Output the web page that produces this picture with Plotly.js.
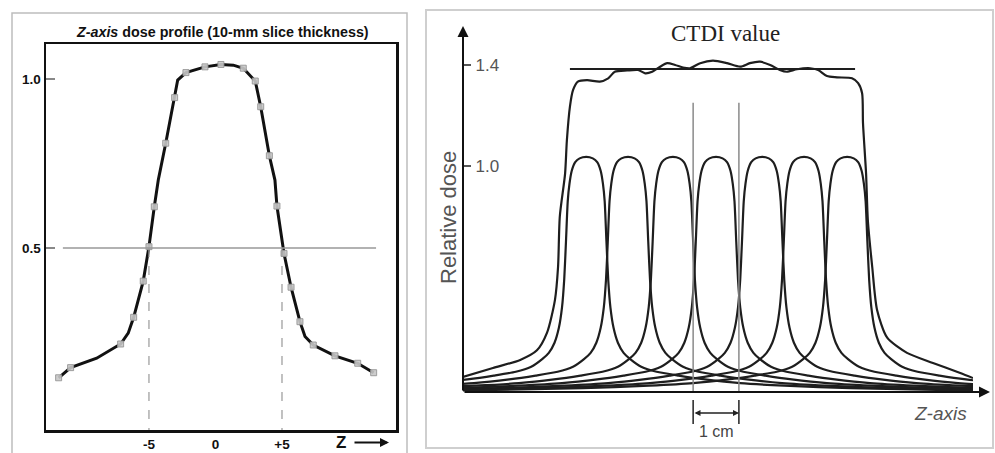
<!DOCTYPE html>
<html>
<head>
<meta charset="utf-8">
<script src="https://cdn.plot.ly/plotly-3.0.1.min.js"></script>
<style>html,body{margin:0;padding:0;background:#fff;}#chart{width:995px;height:453px;}</style>
</head>
<body>
<div id="chart"></div>
<script>
// ---------- Left panel: Z-axis dose profile (10-mm slice) ----------
const profileLineZ    = [-11.79,-10.89,-8.93,-7.13,-6.56,-6.15,-5.43,-5.0,-4.6,-4.3,-3.74,-3.07,-2.84,-2.22,-0.79,0.41,1.34,2.09,2.99,3.40,4.05,4.47,4.62,5.15,5.68,6.35,6.73,7.35,8.98,10.69,11.89];
const profileLineDose = [0.116,0.146,0.174,0.216,0.248,0.295,0.402,0.504,0.622,0.701,0.81,0.945,0.997,1.019,1.036,1.043,1.041,1.032,0.994,0.918,0.773,0.701,0.624,0.484,0.384,0.282,0.238,0.213,0.181,0.159,0.131];
const measuredZ       = [-11.79,-10.89,-7.13,-6.15,-5.43,-5.0,-4.6,-3.74,-3.07,-2.22,-0.79,0.41,2.09,2.99,3.40,4.05,4.62,5.15,5.68,6.35,7.35,8.98,10.69,11.89];
const measuredDose    = [0.116,0.146,0.216,0.295,0.402,0.504,0.622,0.81,0.945,1.019,1.036,1.043,1.032,0.994,0.918,0.773,0.624,0.484,0.384,0.282,0.213,0.181,0.159,0.131];
const leftTickVals = [-5, 0, 5];
const leftTickText = ['-5', '0', '+5'];
const leftYTickVals = [0.5, 1.0];
const leftYTickText = ['0.5', '1.0'];
const halfMaxLevel = 0.5;
const fwhmEdges = [-5, 5];

// ---------- Right panel: CTDI from contiguous slices ----------
const sliceCenters  = [-2.95, -2.0, -0.98, 0, 1.05, 2.0, 2.98];   // cm
const sliceOffset   = [-9,-6,-4.5,-3.5,-2.7,-2.1,-1.6,-1.25,-1.0,-0.85,-0.72,-0.62,-0.55,-0.5,-0.46,-0.42,-0.38,-0.33,-0.25,-0.15,0,0.15,0.25,0.33,0.38,0.42,0.46,0.5,0.55,0.62,0.72,0.85,1.0,1.25,1.6,2.1,2.7,3.5,4.5,6,9];
const sliceDose     = [0.11,0.12,0.13,0.14,0.155,0.17,0.185,0.205,0.235,0.26,0.3,0.36,0.44,0.55,0.7,0.86,0.93,0.98,1.015,1.03,1.036,1.03,1.015,0.98,0.93,0.86,0.7,0.55,0.44,0.36,0.3,0.26,0.235,0.205,0.185,0.17,0.155,0.14,0.13,0.12,0.11];
const sumZ    = [-5.75,-5.07,-4.45,-4.07,-3.84,-3.66,-3.59,-3.55,-3.43,-3.39,-3.32,-3.25,-3.14,-2.93,-2.64,-2.45,-2.30,-2.02,-1.77,-1.61,-1.45,-1.27,-1.11,-0.93,-0.75,-0.59,-0.36,-0.07,0.25,0.55,0.77,1.0,1.23,1.45,1.61,1.84,2.14,2.32,2.52,2.75,3.09,3.23,3.32,3.34,3.41,3.45,3.55,3.66,3.89,4.34,4.93,5.55,5.84];
const sumDose = [0.165,0.2,0.232,0.27,0.34,0.47,0.6,0.8,0.97,1.10,1.235,1.30,1.334,1.34,1.334,1.347,1.373,1.378,1.38,1.367,1.373,1.393,1.407,1.40,1.39,1.387,1.407,1.417,1.407,1.393,1.407,1.413,1.40,1.38,1.373,1.383,1.387,1.38,1.356,1.351,1.347,1.328,1.288,1.17,0.97,0.786,0.6,0.43,0.32,0.26,0.22,0.18,0.16];
const ctdiLevel = 1.384;
const ctdiExtent = [-3.32, 3.16];
const oneCmMarks = [-0.52, 0.52];
const rightYTickVals = [1.0, 1.4];
const rightYTickText = ['1.0', '1.4'];

const W = 995, H = 453;
const px = v => v / W;
const py = v => 1 - v / H;

const traces = [];
traces.push({x: profileLineZ, y: profileLineDose, xaxis: 'x', yaxis: 'y', mode: 'lines',
  line: {color: '#111', width: 3}, hoverinfo: 'skip'});
traces.push({x: measuredZ, y: measuredDose, xaxis: 'x', yaxis: 'y', mode: 'markers',
  marker: {symbol: 'square', size: 6, color: 'rgba(200,200,200,0.9)', line: {color: 'rgba(150,150,150,0.9)', width: 1}}, hoverinfo: 'skip'});

sliceCenters.forEach(c => {
  traces.push({x: sliceOffset.map(d => c + d), y: sliceDose, xaxis: 'x2', yaxis: 'y2', mode: 'lines',
    line: {color: '#1e1e1e', width: 2.2, shape: 'spline', smoothing: 0.6}, hoverinfo: 'skip'});
});
traces.push({x: sumZ, y: sumDose, xaxis: 'x2', yaxis: 'y2', mode: 'lines',
  line: {color: '#1e1e1e', width: 2.2, shape: 'spline', smoothing: 0.7}, hoverinfo: 'skip'});
traces.push({x: ctdiExtent, y: [ctdiLevel, ctdiLevel], xaxis: 'x2', yaxis: 'y2', mode: 'lines',
  line: {color: '#1e1e1e', width: 2.2}, hoverinfo: 'skip'});

const shapes = [
  {type: 'rect', xref: 'paper', yref: 'paper', x0: px(12), x1: px(407), y0: -0.05, y1: py(13), line: {color: '#bdbdbd', width: 1.5}},
  {type: 'rect', xref: 'paper', yref: 'paper', x0: px(426), x1: px(993), y0: py(448), y1: py(10), line: {color: '#cfcfcf', width: 2}},
  {type: 'line', xref: 'x', yref: 'y', x0: -11.47, x1: 12.07, y0: halfMaxLevel, y1: halfMaxLevel, line: {color: '#999', width: 1.3}},
];
fwhmEdges.forEach(e => shapes.push({type: 'line', xref: 'x', yref: 'y', x0: e, x1: e, y0: halfMaxLevel, y1: -0.04, line: {color: '#999', width: 1.2, dash: 'dash'}}));
oneCmMarks.forEach(m => {
  shapes.push({type: 'line', xref: 'x2', yref: 'y2', x0: m, x1: m, y0: 1.25, y1: 0.105, line: {color: '#8a8a8a', width: 1.5}});
  shapes.push({type: 'line', xref: 'x2', yref: 'paper', x0: m, x1: m, y0: py(400), y1: py(424), line: {color: '#222', width: 1.5}});
});

const annotations = [
  {xref: 'paper', yref: 'paper', x: px(222), y: py(32), xanchor: 'center', yanchor: 'middle', showarrow: false,
   text: '<b><i>Z-axis</i> dose profile (10-mm slice thickness)</b>', font: {family: 'Liberation Sans, Arial', size: 14.3, color: '#111'}},
  {xref: 'paper', yref: 'paper', x: px(341), y: py(442), xanchor: 'center', yanchor: 'middle', showarrow: false,
   text: '<b>Z</b>', font: {family: 'Liberation Sans, Arial', size: 17, color: '#111'}},
  {xref: 'paper', yref: 'paper', x: px(389), y: py(442.5), ax: -36, ay: 0, text: '', showarrow: true,
   arrowhead: 2, arrowsize: 1, arrowwidth: 1.8, arrowcolor: '#111'},
  {xref: 'paper', yref: 'paper', x: px(463), y: py(26), ax: 0, ay: 366, text: '', showarrow: true,
   arrowhead: 2, arrowsize: 1.1, arrowwidth: 2, arrowcolor: '#111'},
  {xref: 'paper', yref: 'paper', x: px(990), y: py(392), ax: -527, ay: 0, text: '', showarrow: true,
   arrowhead: 2, arrowsize: 1.1, arrowwidth: 2, arrowcolor: '#111'},
  {xref: 'paper', yref: 'paper', x: px(739), y: py(413), ax: -46, ay: 0, text: '', showarrow: true,
   arrowhead: 2, arrowside: 'end+start', arrowsize: 0.8, arrowwidth: 1.5, arrowcolor: '#222'},
  {xref: 'paper', yref: 'paper', x: px(725), y: py(33), xanchor: 'center', yanchor: 'middle', showarrow: false,
   text: 'CTDI value', font: {family: 'Liberation Serif, Times New Roman', size: 23, color: '#222'}},
  {xref: 'paper', yref: 'paper', x: px(448), y: py(218), xanchor: 'center', yanchor: 'middle', showarrow: false, textangle: -90,
   text: 'Relative dose', font: {family: 'Liberation Sans, Arial', size: 22, color: '#555'}},
  {xref: 'paper', yref: 'paper', x: px(940), y: py(413), xanchor: 'center', yanchor: 'middle', showarrow: false,
   text: '<i>Z-axis</i>', font: {family: 'Liberation Sans, Arial', size: 19, color: '#555'}},
  {xref: 'paper', yref: 'paper', x: px(716), y: py(431), xanchor: 'center', yanchor: 'middle', showarrow: false,
   text: '1 cm', font: {family: 'Liberation Sans, Arial', size: 16, color: '#444'}},
];

const layout = {
  width: W, height: H, margin: {l: 0, r: 0, t: 0, b: 0},
  paper_bgcolor: '#fff', plot_bgcolor: 'rgba(0,0,0,0)', showlegend: false,
  font: {family: 'Liberation Sans, Arial', color: '#111'},
  xaxis: {domain: [px(46), px(396)], range: [-12.74, 13.57], showline: true, mirror: true, linecolor: '#111', linewidth: 2.5,
    ticks: '', tickvals: leftTickVals, ticktext: leftTickText, showgrid: false, zeroline: false,
    tickfont: {size: 13.5, weight: 'bold', color: '#111'}, anchor: 'y', fixedrange: true},
  yaxis: {domain: [1 - 430/H, 1 - 44/H], range: [-0.0385, 1.1036], showline: true, mirror: true, linecolor: '#111', linewidth: 2.5,
    ticks: 'inside', ticklen: 9, tickcolor: '#888', tickwidth: 1.3, tickvals: leftYTickVals, ticktext: leftYTickText,
    showgrid: false, zeroline: false, tickfont: {size: 13.5, weight: 'bold', color: '#111'}, anchor: 'x', fixedrange: true},
  xaxis2: {domain: [px(463), px(973)], range: [-5.75, 5.84], showline: false, ticks: '', showticklabels: false,
    showgrid: false, zeroline: false, anchor: 'y2', fixedrange: true},
  yaxis2: {domain: [1 - 400/H, 1 - 20/H], range: [0.0733, 1.578], showline: false, showgrid: false, zeroline: false,
    ticks: 'inside', ticklen: 8, tickcolor: '#555', tickwidth: 1.5, tickvals: rightYTickVals, ticktext: rightYTickText,
    ticklabelposition: 'inside', ticklabelstandoff: 5, tickfont: {size: 17, color: '#555'}, anchor: 'x2', fixedrange: true},
  shapes: shapes, annotations: annotations
};

Plotly.newPlot('chart', traces, layout, {displayModeBar: false, staticPlot: true});
</script>
</body>
</html>
